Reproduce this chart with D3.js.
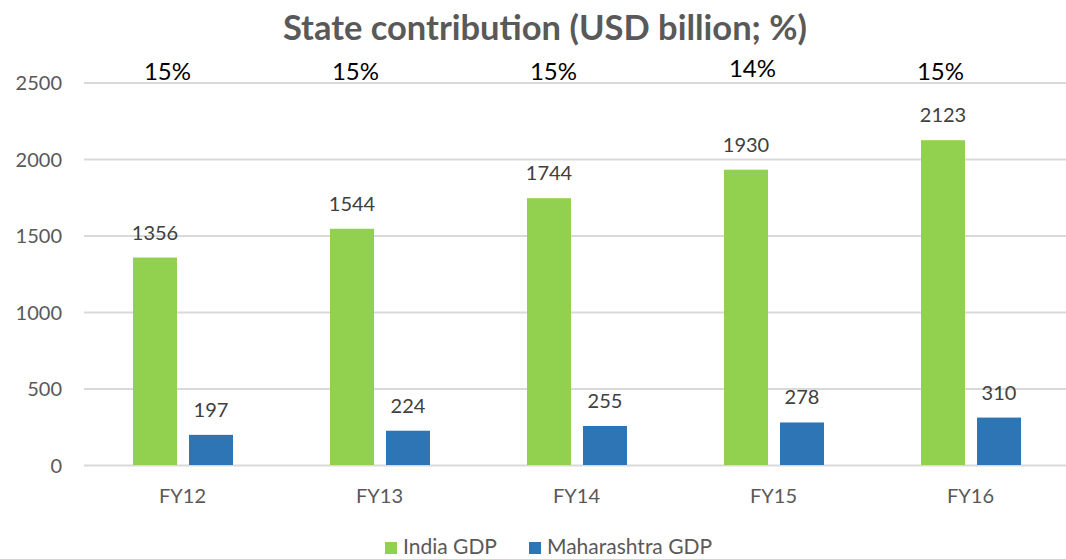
<!DOCTYPE html>
<html>
<head>
<meta charset="utf-8">
<script src="https://cdn.jsdelivr.net/npm/d3@7"></script>
<style>
  html, body { margin: 0; padding: 0; background: #fff; }
  svg { display: block; font-family: Lato, "Open Sans", sans-serif; }
</style>
</head>
<body>
<div id="chart"></div>
<script>
const years = ['FY12', 'FY13', 'FY14', 'FY15', 'FY16'];
const indiaGdp = [1356, 1544, 1744, 1930, 2123];
const mahaGdp = [197, 224, 255, 278, 310];
const sharePct = [15, 15, 15, 14, 15];
const yTicks = [0, 500, 1000, 1500, 2000, 2500];
const seriesNames = ['India GDP', 'Maharashtra GDP'];
const seriesColors = ['#92d050', '#2e75b6'];

// Excel-style manual label nudges for the % row
const pctNudgeX = [-15, -24, -23, -21, -30];
const pctNudgeY = [0, 0, 0, -3, 0];

const width = 1066;
const height = 559;
const margin = { top: 82.5, right: -3, bottom: 94, left: 84 };

const svg = d3.select('#chart').append('svg').attr('width', width).attr('height', height);

const x = d3.scaleBand().domain(years).range([margin.left, width - margin.right]).padding(0);
const xSub = d3.scaleBand().domain(seriesNames).range([49, 149]).paddingInner(12 / 56).paddingOuter(0);
const y = d3.scaleLinear().domain([0, 2500]).range([height - margin.bottom, margin.top]);

svg
  .append('text')
  .attr('x', 545)
  .attr('y', 40)
  .attr('text-anchor', 'middle')
  .attr('font-size', 34.5)
  .attr('font-weight', 'bold')
  .attr('fill', '#595959')
  .text('State contribution (USD billion; %)');

// gridlines + y labels
svg
  .append('g')
  .attr('transform', `translate(${margin.left},0)`)
  .call(
    d3
      .axisLeft(y)
      .tickValues(yTicks)
      .tickFormat(d3.format('d'))
      .tickSize(-(width - margin.right - margin.left))
      .tickPadding(22)
  )
  .call((g) => g.select('.domain').remove())
  .call((g) => g.selectAll('.tick line').attr('stroke', '#d9d9d9').attr('stroke-width', 2))
  .call((g) =>
    g.selectAll('.tick text').attr('font-size', 20).attr('fill', '#595959').attr('font-family', 'Lato').attr('dy', '0.36em')
  );

// x labels
svg
  .append('g')
  .attr('transform', `translate(0,${y(0)})`)
  .call(d3.axisBottom(x).tickSize(0).tickPadding(24))
  .call((g) => g.select('.domain').remove())
  .call((g) => g.selectAll('.tick text').attr('font-size', 20).attr('fill', '#595959').attr('font-family', 'Lato'));

const rows = years.map((yr, i) => ({ yr, values: [indiaGdp[i], mahaGdp[i]] }));

const groups = svg
  .selectAll('g.year')
  .data(rows)
  .join('g')
  .attr('class', 'year')
  .attr('transform', (d) => `translate(${x(d.yr)},0)`);

groups
  .selectAll('rect')
  .data((d) => d.values.map((v, k) => ({ v, k })))
  .join('rect')
  .attr('x', (d) => xSub(seriesNames[d.k]))
  .attr('y', (d) => y(d.v))
  .attr('width', xSub.bandwidth())
  .attr('height', (d) => y(0) - y(d.v))
  .attr('fill', (d) => seriesColors[d.k]);

groups
  .selectAll('text.val')
  .data((d) => d.values.map((v, k) => ({ v, k })))
  .join('text')
  .attr('class', 'val')
  .attr('x', (d) => xSub(seriesNames[d.k]) + xSub.bandwidth() / 2)
  .attr('y', (d) => y(d.v) - 18)
  .attr('text-anchor', 'middle')
  .attr('font-size', 20)
  .attr('fill', '#404040')
  .text((d) => d.v);

svg
  .selectAll('text.pct')
  .data(sharePct)
  .join('text')
  .attr('class', 'pct')
  .attr('x', (d, i) => x(years[i]) + x.bandwidth() / 2 + pctNudgeX[i])
  .attr('y', (d, i) => 80 + pctNudgeY[i])
  .attr('text-anchor', 'middle')
  .attr('font-size', 24)
  .attr('fill', '#000')
  .text((d) => `${d}%`);

// legend
const legendX = [385, 529];
const legend = svg
  .selectAll('g.legend')
  .data(seriesNames)
  .join('g')
  .attr('class', 'legend')
  .attr('transform', (d, i) => `translate(${legendX[i]},542)`);
legend.append('rect').attr('width', 12).attr('height', 12).attr('fill', (d, i) => seriesColors[i]);
legend
  .append('text')
  .attr('x', 18)
  .attr('y', 12)
  .attr('font-size', 21)
  .attr('fill', '#595959')
  .text((d) => d);
</script>
</body>
</html>
